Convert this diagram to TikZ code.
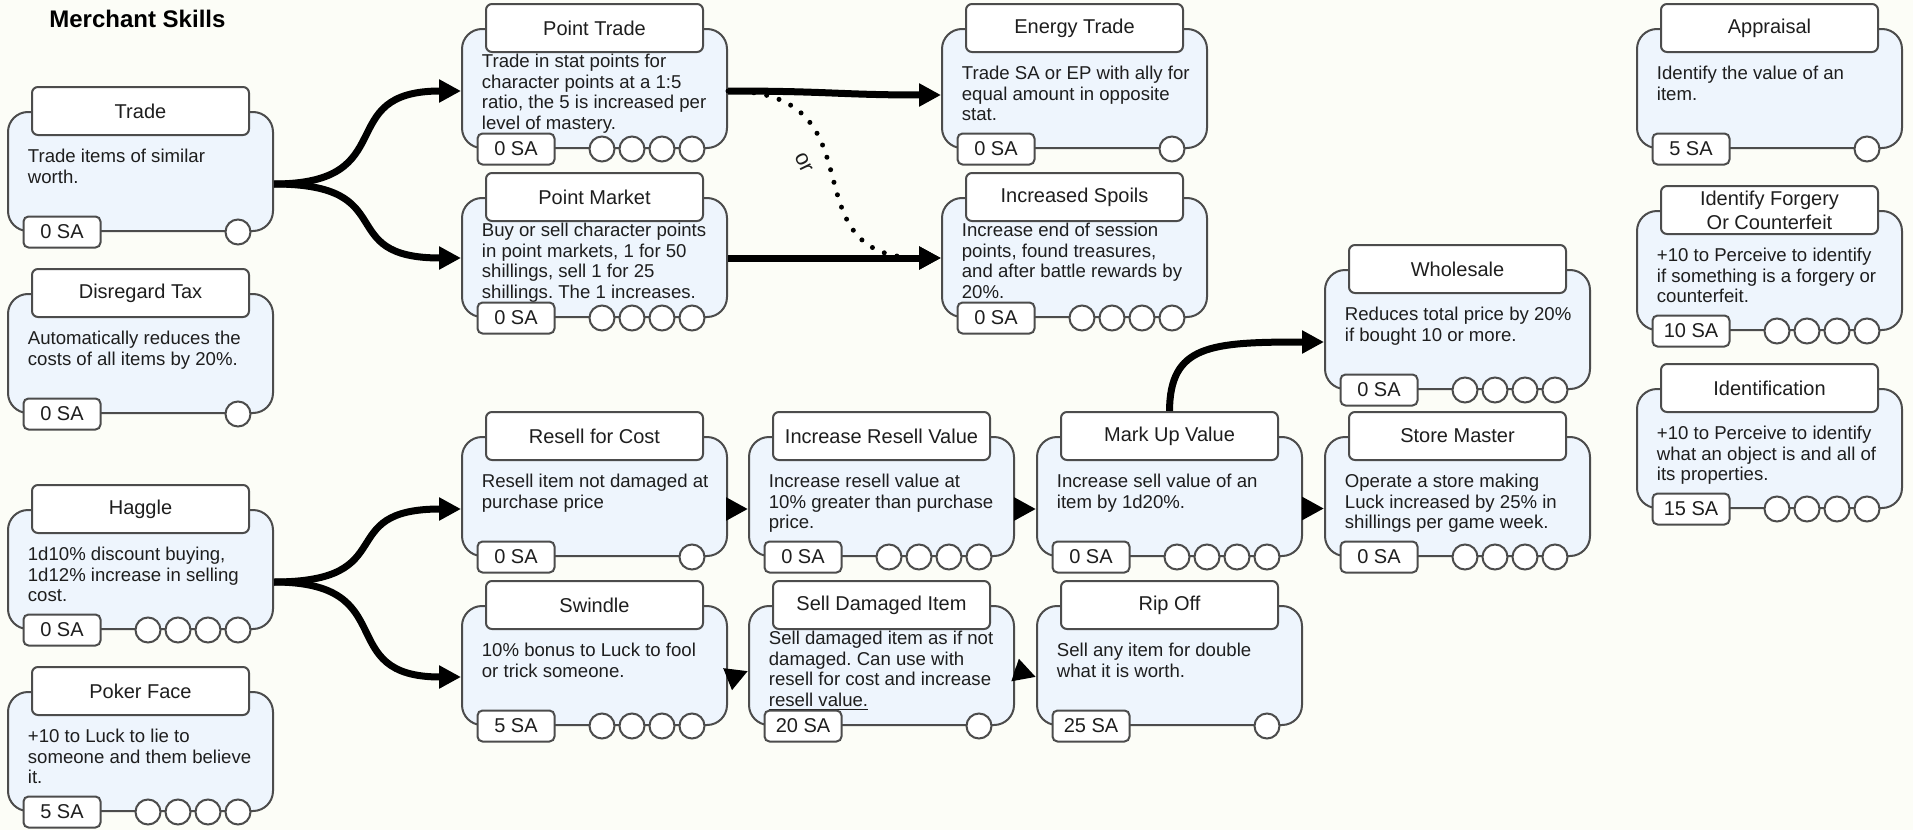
\documentclass[tikz,border=0pt]{standalone}
\usepackage{fontspec}
\setmainfont{Liberation Sans}
\usetikzlibrary{arrows.meta,calc}
\frenchspacing

\definecolor{paper}{HTML}{FCFDF7}
\definecolor{cardfill}{HTML}{EEF5FD}
\definecolor{edge}{HTML}{4C4C4C}
\definecolor{ink}{HTML}{1E1E1E}

\tikzset{
  cardbody/.style={draw=edge, fill=cardfill, line width=1pt, rounded corners=10pt,
    minimum width=132.5pt, minimum height=59.5pt, inner sep=0pt},
  cardtitle/.style={draw=edge, fill=white, line width=1pt, rounded corners=3pt,
    minimum width=108.5pt, minimum height=24pt, inner sep=0pt, align=center,
    text=ink, font=\fontsize{10}{12}\selectfont},
  cardtext/.style={anchor=base west, inner sep=0pt, text=ink,
    font=\fontsize{9.3}{10.35}\selectfont},
  sabox/.style={draw=edge, fill=white, line width=1pt, rounded corners=2.5pt,
    minimum width=38.5pt, minimum height=15.5pt, inner sep=0pt, text=ink,
    font=\fontsize{10}{12}\selectfont},
  pip/.style={circle, draw=edge, fill=white, line width=1pt, minimum size=12.5pt, inner sep=0pt},
  flow/.style={line width=3.5pt, -{Triangle[length=11pt,width=11pt]}},
  orflow/.style={line width=2.5pt, line cap=round, dash pattern=on 0pt off 6.5pt,
    -{Triangle[length=11pt,width=11pt]}},
}

% description lines, hung from the baseline of the first line
\newcommand{\desclines}[1]{\begin{tabular}[t]{@{}l@{}}#1\end{tabular}}

% #1 name, #2 left, #3 top, #4 title, #5 description, #6 first baseline, #7 cost, #8 mastery pips
\newcommand{\skillcard}[8]{%
  \node[cardbody] (#1) at (#2+132.5,#3+59.5) {};
  \node[cardtext] (#1-text) at (#2+19.5,#3+#6) {\desclines{#5}};
  \node[cardtitle] (#1-title) at (#1.north) {#4};
  \node[sabox] (#1-sa) at ($(#1.south west)+(55,0)$) {#7};
  \foreach \k in {1,...,#8}{\node[pip] (#1-pip\k) at ($(#1.south east)+({-36-30*(\k-1)},0)$) {};}
}

\begin{document}
\begin{tikzpicture}[x=0.5pt,y=-0.5pt]
\useasboundingbox (0,0) rectangle (1913,830);
\fill[paper] (0,0) rectangle (1913,830);

\node[anchor=base west, inner sep=0pt, font=\bfseries\fontsize{12}{14}\selectfont] (heading) at (49,27) {Merchant Skills};

% left column
\skillcard{trade}{8}{112}{Trade}{Trade items of similar\\worth.}{50.5}{0 SA}{1}
\skillcard{notax}{8}{294}{Disregard Tax}{Automatically reduces the\\costs of all items by 20\%.}{50.5}{0 SA}{1}
\skillcard{haggle}{8}{510}{Haggle}{1d10\% discount buying,\\1d12\% increase in selling\\cost.}{50.5}{0 SA}{4}
\skillcard{poker}{8}{692}{Poker Face}{+10 to Luck to lie to\\someone and them believe\\it.}{50.5}{5 SA}{4}

% second column
\skillcard{ptrade}{462}{29}{Point Trade}{Trade in stat points for\\character points at a 1:5\\ratio, the 5 is increased per\\level of mastery.}{38.5}{0 SA}{4}
\skillcard{pmarket}{462}{198}{Point Market}{Buy or sell character points\\in point markets, 1 for 50\\shillings, sell 1 for 25\\shillings. The 1 increases.}{38.5}{0 SA}{4}
\skillcard{resell}{462}{437}{Resell for Cost}{Resell item not damaged at\\purchase price}{50.5}{0 SA}{1}
\skillcard{swindle}{462}{606}{Swindle}{10\% bonus to Luck to fool\\or trick someone.}{50.5}{5 SA}{4}

% middle
\skillcard{incresell}{749}{437}{Increase Resell Value}{Increase resell value at\\10\% greater than purchase\\price.}{50.5}{0 SA}{4}
\skillcard{selldmg}{749}{606}{Sell Damaged Item}{Sell damaged item as if not\\damaged. Can use with\\resell for cost and increase\\\underline{resell value.}}{38.5}{20 SA}{1}
\skillcard{energy}{942}{29}{Energy Trade}{Trade SA or EP with ally for\\equal amount in opposite\\stat.}{50.5}{0 SA}{1}
\skillcard{spoils}{942}{198}{Increased Spoils}{Increase end of session\\points, found treasures,\\and after battle rewards by\\20\%.}{38.5}{0 SA}{4}
\skillcard{markup}{1037}{437}{Mark Up Value}{Increase sell value of an\\item by 1d20\%.}{50.5}{0 SA}{4}
\skillcard{ripoff}{1037}{606}{Rip Off}{Sell any item for double\\what it is worth.}{50.5}{25 SA}{1}
\skillcard{wholesale}{1325}{270}{Wholesale}{Reduces total price by 20\%\\if bought 10 or more.}{50.5}{0 SA}{4}
\skillcard{storemaster}{1325}{437}{Store Master}{Operate a store making\\Luck increased by 25\% in\\shillings per game week.}{50.5}{0 SA}{4}

% right column
\skillcard{appraisal}{1637}{29}{Appraisal}{Identify the value of an\\item.}{50.5}{5 SA}{1}
\skillcard{forgery}{1637}{211}{Identify Forgery\\Or Counterfeit}{+10 to Perceive to identify\\if something is a forgery or\\counterfeit.}{50.5}{10 SA}{4}
\skillcard{identify}{1637}{389}{Identification}{+10 to Perceive to identify\\what an object is and all of\\its properties.}{50.5}{15 SA}{4}

% alternative path
\draw[orflow] ($(ptrade.east)+(0,2.5)$) .. controls +(158,0) and +(-158,0) .. ($(spoils.west)+(0,0.5)$);
\node[rotate=-64, inner sep=0pt, text=ink, font=\fontsize{11}{13}\selectfont] (orlabel) at (804,163) {or};

% prerequisites
\draw[flow] ($(trade.east)+(0,12.5)$) .. controls +(130,0) and +(-130,0) .. ($(ptrade.west)+(0,2.5)$);
\draw[flow] ($(trade.east)+(0,12.5)$) .. controls +(130,0) and +(-130,0) .. ($(pmarket.west)+(0,0.5)$);
\draw[flow] ($(haggle.east)+(0,12.5)$) .. controls +(130,0) and +(-130,0) .. ($(resell.west)+(0,12.5)$);
\draw[flow] ($(haggle.east)+(0,12.5)$) .. controls +(130,0) and +(-130,0) .. ($(swindle.west)+(0,11.5)$);
\draw[flow] ($(ptrade.east)+(0,2.5)$) .. controls +(100,0) and +(-100,0) .. ($(energy.west)+(0,6.5)$);
\draw[flow] ($(pmarket.east)+(0,0.5)$) -- ($(spoils.west)+(0,0.5)$);
\draw[flow] ($(resell.east)+(0,12.5)$) -- ($(incresell.west)+(0,12.5)$);
\draw[flow] ($(incresell.east)+(0,12.5)$) -- ($(markup.west)+(0,12.5)$);
\draw[flow] ($(markup.east)+(0,12)$) -- ($(storemaster.west)+(0,12)$);
\draw[flow] ($(swindle.east)+(0,13.5)$) -- ($(selldmg.west)+(0,5.5)$);
\draw[flow] ($(selldmg.east)+(0,4.5)$) -- ($(ripoff.west)+(0,11.5)$);
\draw[flow] (markup-title.north) .. controls (1170,345) and (1210,342) .. ($(wholesale.west)+(0,12.5)$);
\end{tikzpicture}
\end{document}
